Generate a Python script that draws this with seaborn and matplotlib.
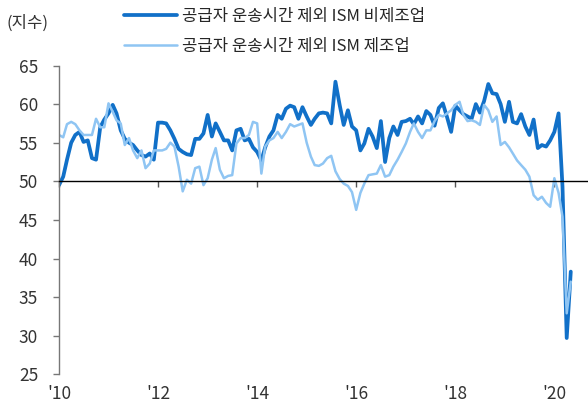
import pandas as pd
import matplotlib
matplotlib.use('Agg')
import matplotlib.pyplot as plt
import matplotlib.dates as mdates
import seaborn as sns

# monthly, Jan 2010 .. May 2020
months = pd.date_range('2010-01-01', periods=125, freq='MS')

ism_nonmfg = [
    49.5, 50.6, 52.8, 55.0, 56.0, 56.4, 55.1, 55.3, 53.0, 52.8, 57.0, 58.0,
    58.8, 59.9, 58.8, 56.6, 55.5, 55.0, 54.7, 54.0, 53.4, 53.2, 53.6, 52.8,
    57.6, 57.6, 57.5, 56.6, 55.5, 54.2, 53.8, 53.5, 53.4, 55.5, 55.5, 56.2,
    58.6, 55.8, 57.5, 56.4, 55.3, 55.3, 54.0, 56.6, 56.8, 55.3, 55.5, 54.4,
    53.8, 52.7, 54.4, 55.8, 56.6, 58.6, 58.1, 59.4, 59.8, 59.6, 58.1, 59.6,
    58.4, 57.3, 58.1, 58.8, 58.9, 58.8, 57.5, 62.9, 59.9, 57.3, 59.2, 57.1,
    56.6, 54.0, 54.9, 56.8, 55.8, 54.3, 57.8, 52.5, 55.6, 57.1, 56.0, 57.7,
    57.8, 58.1, 57.4, 58.4, 57.5, 59.1, 58.6, 57.2, 59.5, 60.1, 58.3, 56.4,
    59.8, 59.2, 58.7, 58.4, 58.1, 60.0, 58.9, 60.4, 62.6, 61.4, 61.3, 60.0,
    57.7, 60.3, 57.7, 57.5, 58.7, 57.1, 56.0, 58.0, 54.3, 54.7, 54.5, 55.3,
    56.4, 58.8, 49.3, 29.7, 38.3,
]

ism_mfg = [
    56.0, 55.7, 57.4, 57.7, 57.4, 56.6, 56.0, 56.0, 56.0, 58.1, 57.0, 57.0,
    60.1, 59.0, 57.9, 57.5, 54.7, 55.6, 54.0, 53.0, 54.0, 51.7, 52.3, 54.0,
    54.0, 54.0, 54.2, 55.0, 54.5, 51.9, 48.7, 50.2, 49.7, 51.7, 51.9, 49.5,
    50.4, 52.8, 54.3, 51.5, 50.4, 50.7, 50.8, 54.9, 55.6, 55.6, 56.0, 57.7,
    57.5, 51.0, 54.5, 55.3, 55.6, 56.4, 55.6, 56.4, 57.4, 57.1, 57.3, 57.5,
    55.0, 53.2, 52.1, 52.0, 52.3, 53.0, 53.3, 51.3, 50.3, 49.7, 49.4, 48.6,
    46.3, 48.5, 49.7, 50.8, 50.9, 51.0, 52.1, 50.6, 50.8, 51.9, 52.8, 53.8,
    54.9, 56.4, 57.5, 56.4, 55.6, 56.6, 56.6, 57.8, 58.6, 58.4, 58.8, 59.2,
    59.9, 60.3, 58.6, 57.8, 57.9, 57.7, 57.3, 59.9, 59.2, 57.7, 58.4, 54.7,
    55.1, 54.4, 53.6, 52.7, 52.1, 51.5, 50.6, 48.2, 47.6, 48.0, 47.2, 46.7,
    50.4, 48.5, 45.4, 32.9, 37.0,
]

label_nonmfg = '공급자 운송시간 제외 ISM 비제조업'
label_mfg = '공급자 운송시간 제외 ISM 제조업'
tick_years = [2010, 2012, 2014, 2016, 2018, 2020]
tick_labels = ["'10", "'12", "'14", "'16", "'18", "'20"]
y_ticks = [25, 30, 35, 40, 45, 50, 55, 60, 65]

DARK = '#1170c8'
LIGHT = '#8fc5f3'

sns.set_style('white')
plt.rcParams['font.family'] = ['Noto Sans CJK KR', 'DejaVu Sans']

df = pd.DataFrame({'date': months, 'nonmfg': ism_nonmfg, 'mfg': ism_mfg})

fig = plt.figure(figsize=(5.88, 4.07), dpi=100)
ax = fig.add_axes([59 / 588, 1 - 374.3 / 407, 529 / 588, (374.3 - 65.5) / 407])

sns.lineplot(data=df, x='date', y='nonmfg', ax=ax, color=DARK, lw=2.7,
             label=label_nonmfg, legend=False)
sns.lineplot(data=df, x='date', y='mfg', ax=ax, color=LIGHT, lw=1.8,
             label=label_mfg, legend=False)

ax.set_ylim(25, 65)
ax.set_xlim(months[0], pd.Timestamp('2020-09-05'))
ax.set_xlabel('')
ax.set_ylabel('')
ax.set_yticks(y_ticks)
ax.tick_params(axis='y', direction='out', length=4, width=1, color='#777777',
               pad=11, labelsize=12.5, labelcolor='#333333', left=True)

# x axis line sits on 50, ticks there, labels at the bottom
tick_pos = mdates.date2num(pd.to_datetime([f'{y}-01-01' for y in tick_years]))
ax.spines['bottom'].set_position(('data', 50))
ax.spines['bottom'].set_color('black')
ax.spines['bottom'].set_linewidth(1)
ax.set_xticks(tick_pos)
ax.tick_params(axis='x', direction='out', length=4, width=1, color='#555555',
               labelbottom=False, bottom=True)
for side in ['top', 'right']:
    ax.spines[side].set_visible(False)
ax.spines['left'].set_color('#777777')
ax.spines['left'].set_linewidth(1)

sec = ax.secondary_xaxis('bottom')
sec.set_xticks(tick_pos, tick_labels)
sec.tick_params(length=0, pad=8, labelsize=12.5, labelcolor='#333333')
sec.spines['bottom'].set_visible(False)

handles, labels = ax.get_legend_handles_labels()
fig.legend(handles, labels, loc='upper left', bbox_to_anchor=(124 / 588, 1 - 8 / 407),
           frameon=False, fontsize=12, handlelength=3.2, handletextpad=0.3,
           labelspacing=0.8, borderpad=0, borderaxespad=0)

fig.text(7 / 588, 1 - 23 / 407, '(지수)', fontsize=12, color='#333333',
         ha='left', va='center')

fig.savefig('out.png', dpi=100)
